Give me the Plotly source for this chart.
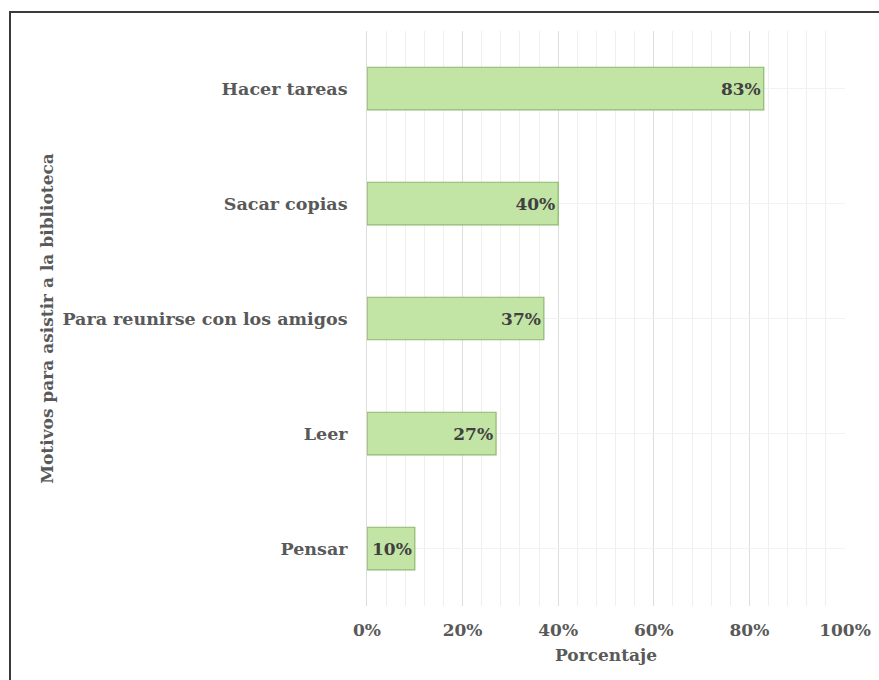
import plotly.graph_objects as go

categories = ["Hacer tareas", "Sacar copias", "Para reunirse con los amigos", "Leer", "Pensar"]
values = [83, 40, 37, 27, 10]
x_ticks = [0, 20, 40, 60, 80, 100]
x_tick_labels = ["0%", "20%", "40%", "60%", "80%", "100%"]

FONT = "DejaVu Serif"
GRAY = "#595959"

fig = go.Figure()
fig.add_trace(go.Bar(
    y=categories, x=values, orientation="h",
    width=0.37,
    marker=dict(color="#c2e4a5", line=dict(color="#8fb86e", width=1.2)),
    text=[f"{v}%" for v in values],
    textposition="inside", insidetextanchor="end", constraintext="none",
    textfont=dict(family=FONT, size=17, color="#404040", weight="bold"),
    cliponaxis=False,
))

L, R, T, B = 367, 879 - 845, 31, 680 - 606
W, H = 879, 680
pw, ph = W - L - R, H - T - B

fig.update_layout(
    width=W, height=H,
    margin=dict(l=L, r=R, t=T, b=B),
    paper_bgcolor="white", plot_bgcolor="white",
    showlegend=False,
    font=dict(family=FONT, color=GRAY),
    xaxis=dict(
        range=[0, 100], tickvals=x_ticks, ticktext=x_tick_labels,
        showgrid=True, gridcolor="#dedede", gridwidth=1,
        minor=dict(dtick=4, showgrid=True, gridcolor="#efefef", gridwidth=1),
        zeroline=False, showline=False, ticks="",
        tickfont=dict(family=FONT, size=17, color=GRAY, weight="bold"),
        ticklabelstandoff=12,
        title=dict(text="Porcentaje", font=dict(family=FONT, size=17, color=GRAY, weight="bold"), standoff=10),
        automargin=False,
    ),
    yaxis=dict(
        autorange="reversed",
        showgrid=True, gridcolor="#f2f2f2",
        zeroline=False, showline=True, linecolor="#dcdcdc", ticks="",
        tickfont=dict(family=FONT, size=17.5, color=GRAY, weight="bold"),
        ticklabelstandoff=15,
        title=dict(text="Motivos para asistir a la biblioteca", font=dict(family=FONT, size=17, color=GRAY, weight="bold"), standoff=4),
        automargin=False,
    ),
    shapes=[dict(
        type="rect", xref="paper", yref="paper",
        x0=(10 - L) / pw, x1=1.5, y0=-0.5, y1=1 + (T - 12) / ph,
        line=dict(color="#3a3a3a", width=2), fillcolor="rgba(0,0,0,0)", layer="below",
    )],
)

fig.write_html("out.html")
